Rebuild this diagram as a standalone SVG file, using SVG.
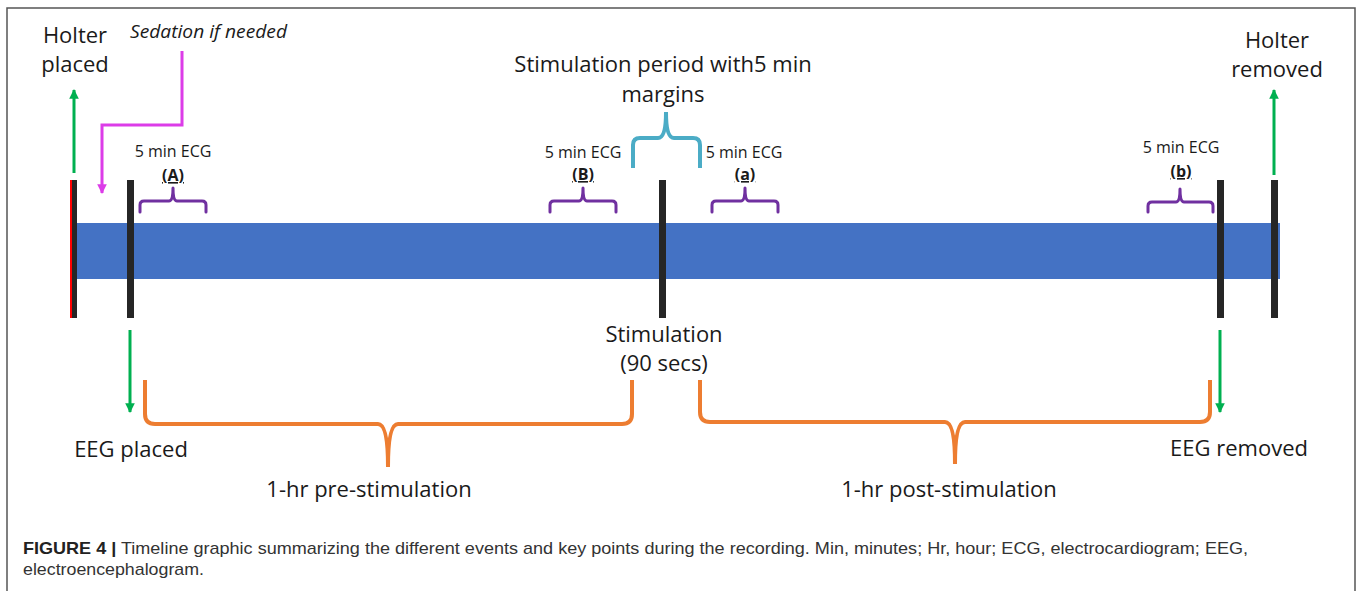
<svg xmlns="http://www.w3.org/2000/svg" width="1360" height="591" viewBox="0 0 1360 591">
<style>
  .lbl { font-family: "Open Sans", "Noto Sans", sans-serif; fill: #1a1a1a; }
  .big { font-size: 22px; }
  .ecg { font-size: 16px; }
  .tag { font-size: 16px; font-weight: bold; text-decoration: underline; }
  .bar { fill: #262626; }
  .purple { fill: none; stroke: #7030A0; stroke-width: 3; stroke-linecap: round; stroke-linejoin: round; }
  .teal { fill: none; stroke: #4BACC6; stroke-width: 4; }
  .orange { fill: none; stroke: #ED7D31; stroke-width: 4; }
  .green { fill: none; stroke: #00B050; stroke-width: 3; }
  .magenta { fill: none; stroke: #DC3CE8; stroke-width: 3; }
  .cap { font-family: "Liberation Sans", Arial, sans-serif; font-size: 17px; fill: #333; }
</style>
<defs>
  <marker id="gArrow" viewBox="0 0 10 10" refX="9" refY="5" markerWidth="3.2" markerHeight="3.2" orient="auto" markerUnits="strokeWidth">
    <path d="M0,0 L10,5 L0,10 z" fill="#00B050"/>
  </marker>
  <marker id="mArrow" viewBox="0 0 10 10" refX="9" refY="5" markerWidth="3.2" markerHeight="3.2" orient="auto" markerUnits="strokeWidth">
    <path d="M0,0 L10,5 L0,10 z" fill="#DC3CE8"/>
  </marker>
</defs>

<rect width="1360" height="591" fill="#ffffff"/>
<path d="M7,591 V8 H1355 V591" fill="none" stroke="#555" stroke-width="1.5"/>

<g id="timeline">
  <rect x="77" y="223" width="1203" height="56" fill="#4472C4"/>
</g>
<g id="bar-holter-placed">
  <rect class="bar" x="70" y="180" width="7" height="138"/>
  <rect x="70" y="180" width="2" height="138" fill="#FF0000"/>
</g>
<g id="bar-eeg-placed"><rect class="bar" x="127" y="180" width="7" height="138"/></g>
<g id="bar-stimulation"><rect class="bar" x="659" y="180" width="7" height="138"/></g>
<g id="bar-eeg-removed"><rect class="bar" x="1217" y="180" width="7" height="138"/></g>
<g id="bar-holter-removed"><rect class="bar" x="1271" y="180" width="7" height="138"/></g>

<g id="connectors">
  <line class="green" x1="74" y1="173" x2="74" y2="90" marker-end="url(#gArrow)"/>
  <line class="green" x1="1274" y1="175" x2="1274" y2="90" marker-end="url(#gArrow)"/>
  <line class="green" x1="130" y1="330" x2="130" y2="412" marker-end="url(#gArrow)"/>
  <line class="green" x1="1220" y1="330" x2="1220" y2="412" marker-end="url(#gArrow)"/>
  <path class="magenta" d="M182,51 V125 H102 V193" marker-end="url(#mArrow)"/>
</g>

<g id="braces">
  <path class="purple" d="M140,212 V205 Q140,201 144,201 H169 Q173,201 173,188 Q173,201 177,201 H202 Q206,201 206,205 V212"/>
  <path class="purple" d="M550,212 V205 Q550,201 554,201 H579 Q583,201 583,188 Q583,201 587,201 H612 Q616,201 616,205 V212"/>
  <path class="purple" d="M712,212 V205 Q712,201 716,201 H741 Q745,201 745,188 Q745,201 749,201 H774 Q778,201 778,205 V212"/>
  <path class="purple" d="M1148,212 V206 Q1148,202 1152,202 H1176 Q1180,202 1180,189 Q1180,202 1184,202 H1209 Q1213,202 1213,206 V212"/>
  <path class="teal" d="M633,168 V145 Q633,138 640,138 H658 Q666,138 666,112 Q666,138 674,138 H693 Q700,138 700,145 V168"/>
  <path class="orange" d="M145,380 V414 Q145,424 155,424 H378 Q388,424 388,467 Q388,424 398,424 H622 Q632,424 632,414 V380"/>
  <path class="orange" d="M700,380 V412 Q700,422 710,422 H945 Q955,422 955,464 Q955,422 965,422 H1200 Q1210,422 1210,412 V380"/>
</g>

<g id="labels">
  <g id="holter-placed"><text class="lbl big" x="75" y="43" text-anchor="middle">Holter</text><text class="lbl big" x="75" y="72" text-anchor="middle">placed</text></g>
  <g id="holter-removed"><text class="lbl big" x="1277" y="48" text-anchor="middle">Holter</text><text class="lbl big" x="1277" y="77" text-anchor="middle">removed</text></g>
  <g id="sedation"><text class="lbl" x="130" y="38" font-size="18" font-style="italic" textLength="157" lengthAdjust="spacingAndGlyphs">Sedation  if needed</text></g>
  <g id="ecg-A"><text class="lbl ecg" x="173" y="157" text-anchor="middle">5 min ECG</text><text class="lbl tag" x="173" y="181" text-anchor="middle">(A)</text></g>
  <g id="ecg-B"><text class="lbl ecg" x="583" y="158" text-anchor="middle">5 min ECG</text><text class="lbl tag" x="583" y="180" text-anchor="middle">(B)</text></g>
  <g id="ecg-a"><text class="lbl ecg" x="744" y="158" text-anchor="middle">5 min ECG</text><text class="lbl tag" x="745" y="180" text-anchor="middle">(a)</text></g>
  <g id="ecg-b"><text class="lbl ecg" x="1181" y="153" text-anchor="middle">5 min ECG</text><text class="lbl tag" x="1181" y="177" text-anchor="middle">(b)</text></g>
  <g id="stim-period"><text class="lbl" x="663" y="72" font-size="22" text-anchor="middle">Stimulation period with5 min</text><text class="lbl" x="663" y="102" font-size="22" text-anchor="middle">margins</text></g>
  <g id="stimulation"><text class="lbl big" x="664" y="342" text-anchor="middle">Stimulation</text><text class="lbl big" x="664" y="371" text-anchor="middle">(90 secs)</text></g>
  <g id="eeg-placed"><text class="lbl big" x="131" y="457" text-anchor="middle">EEG placed</text></g>
  <g id="eeg-removed"><text class="lbl big" x="1239" y="456" text-anchor="middle">EEG removed</text></g>
  <g id="pre-stim"><text class="lbl big" x="369" y="497" text-anchor="middle">1-hr pre-stimulation</text></g>
  <g id="post-stim"><text class="lbl big" x="949" y="497" text-anchor="middle">1-hr post-stimulation</text></g>
</g>

<g id="caption">
  <text class="cap" x="23" y="554" textLength="1225" lengthAdjust="spacingAndGlyphs"><tspan font-weight="bold" fill="#222">FIGURE 4 |</tspan> Timeline graphic summarizing the different events and key points during the recording. Min, minutes; Hr, hour; ECG, electrocardiogram; EEG,</text>
  <text class="cap" x="23" y="575" textLength="181" lengthAdjust="spacingAndGlyphs">electroencephalogram.</text>
</g>
</svg>
